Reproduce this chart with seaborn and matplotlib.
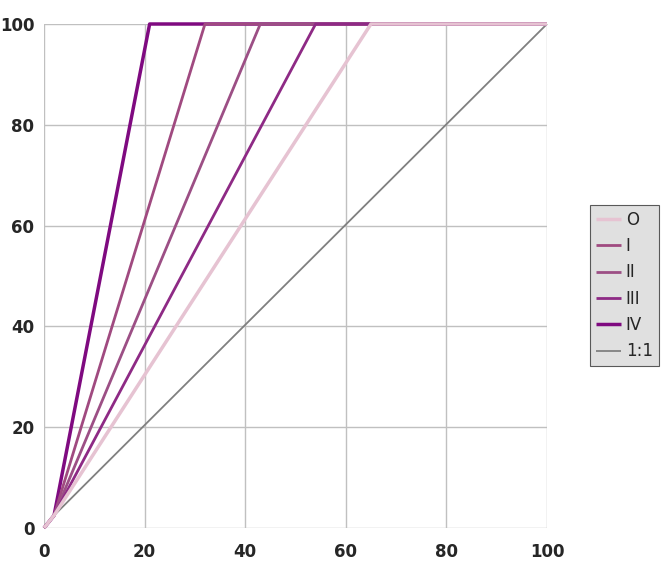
import pandas as pd
import matplotlib.pyplot as plt
import seaborn as sns

# series: each one goes from origin, through a common knee, up to 100
names = ["O", "I", "II", "III", "IV"]
knee_x = [2, 2, 2, 2, 2]
knee_y = [2.5, 2.5, 2.5, 2.5, 2.5]
top_x = [65, 32, 43, 54, 21]
colors = ["#e6c3d2", "#a04a80", "#9c4f85", "#8e2a85", "#7f0a80"]
widths = [2.5, 2.0, 2.0, 2.0, 2.5]

ref_x = [2, 100]
ref_y = [2.5, 100]

ticks = [0, 20, 40, 60, 80, 100]

rows = []
for n, kx, ky, tx in zip(names, knee_x, knee_y, top_x):
    for x, y in [(0, 0), (kx, ky), (tx, 100), (100, 100)]:
        rows.append({"series": n, "x": x, "y": y})
df = pd.DataFrame(rows)
ref = pd.DataFrame({"x": ref_x, "y": ref_y})

sns.set_style("white")
plt.rcParams["font.family"] = ["DejaVu Sans"]

fig = plt.figure(figsize=(6.68, 5.72), dpi=100)
ax = fig.add_axes([44 / 668, 44 / 572, 503 / 668, 504 / 572])

# 1:1 first, then series in order of where they reach 100
sns.lineplot(data=ref, x="x", y="y", color="#808080", lw=1.3,
             ax=ax, sort=False, estimator=None)
handles = {}
order = sorted(range(len(names)), key=lambda i: top_x[i])
for i in order:
    sns.lineplot(data=df[df["series"] == names[i]], x="x", y="y",
                 color=colors[i], lw=widths[i], ax=ax, sort=False, estimator=None)
    handles[names[i]] = ax.lines[-1]
handles["1:1"] = ax.lines[0]
for ln in ax.lines:
    ln.set_clip_on(False)
    ln.set_solid_capstyle("butt")

ax.set_xlim(0, 100)
ax.set_ylim(0, 100)
ax.set_xticks(ticks)
ax.set_yticks(ticks)
ax.set_xlabel("")
ax.set_ylabel("")
ax.grid(True, color="#c0c0c0", lw=1)
ax.set_axisbelow(True)
for s in ax.spines.values():
    s.set_visible(False)
ax.tick_params(axis="both", length=3, color="#c0c0c0", width=1, labelsize=12)
ax.tick_params(axis="x", pad=8)
ax.tick_params(axis="y", pad=4)
for lab in ax.get_xticklabels() + ax.get_yticklabels():
    lab.set_fontweight("bold")

labels = names + ["1:1"]
leg = ax.legend([handles[l] for l in labels], labels,
                loc="upper left", bbox_to_anchor=(590 / 668, 1 - 205 / 572),
                bbox_transform=fig.transFigure, fontsize=12, frameon=True,
                fancybox=False, handlelength=1.5, handletextpad=0.3,
                labelspacing=0.5, borderpad=0.35, borderaxespad=0)
leg.get_frame().set_facecolor("#d9d9d9")
leg.get_frame().set_edgecolor("#333333")
leg.get_frame().set_linewidth(0.8)

fig.savefig("out.png", dpi=100)
